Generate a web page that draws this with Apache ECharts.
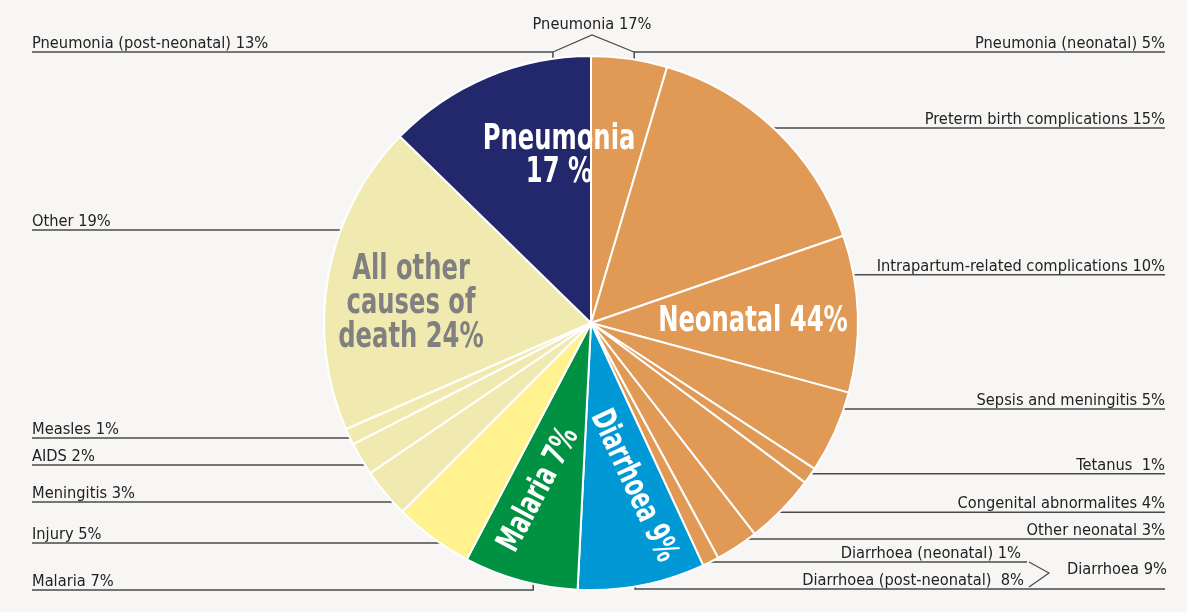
<!DOCTYPE html>
<html><head><meta charset="utf-8">
<script src="https://cdn.jsdelivr.net/npm/echarts@6/dist/echarts.min.js"></script>
<style>html,body{margin:0;padding:0;background:#f7f6f4;}#c{width:1187px;height:612px;}</style>
</head><body><div id="c"></div>
<script>
// ---- data ----
const causes = ['Pneumonia (neonatal)', 'Preterm birth complications', 'Intrapartum-related complications',
  'Sepsis and meningitis', 'Tetanus', 'Congenital abnormalites', 'Other neonatal', 'Diarrhoea (neonatal)',
  'Diarrhoea (post-neonatal)', 'Malaria', 'Injury', 'Meningitis', 'AIDS', 'Measles', 'Other',
  'Pneumonia (post-neonatal)'];
const shares = [4.6, 15.1, 9.5, 5.0, 1.0, 4.3, 2.6, 1.0, 7.7, 6.9, 4.8, 3.0, 2.0, 1.0, 18.8, 12.7];
const shownPercents = ['5%', '15%', '10%', '5%', ' 1%', '4%', '3%', '1%', ' 8%', '7%', '5%', '3%', '2%', '1%', '19%', '13%'];
const groupOf = ['neonatal', 'neonatal', 'neonatal', 'neonatal', 'neonatal', 'neonatal', 'neonatal', 'neonatal',
  'diarrhoea', 'malaria', 'injury', 'other', 'other', 'other', 'other', 'pneumonia'];
const groupTitles = { pneumonia: 'Pneumonia\n17 %', neonatal: 'Neonatal 44%', other: 'All other\ncauses of\ndeath 24%',
  malaria: 'Malaria 7%', diarrhoea: 'Diarrhoea 9%' };
const bracketTitles = { pneumonia: 'Pneumonia 17%', diarrhoea: 'Diarrhoea 9%' };

// ---- styles / layout ----
const colors = { neonatal: '#e09a55', pneumonia: '#23276b', diarrhoea: '#0099d6', malaria: '#009142',
  injury: '#fff28f', other: '#f1eab0' };
const CX = 591, CY = 323, R = 267;
const LEFT_X = 32, RIGHT_X = 1165;
const FONT = '"DejaVu Sans Condensed", "Liberation Sans Narrow", "Roboto", sans-serif';
const LABEL_SIZE = 16.3;
const LINE_COLOR = '#4a4a4a';
const SQUEEZE = 0.77;
// where each leader line meets the pie (degrees clockwise from 12 o'clock) and optional line height
const anchorDeg = [9.3, 43.1, 79.6, 108.8, 124.4, 135.1, 144.0, 153.5, 170.5, 192.5, 214.5, 227.9, 237.9, 244.5, 290.4, 351.8];
const lineYOverride = { 0: 52, 8: 589, 9: 590, 15: 52 };
const lineEndOverride = { 7: 1027 };
const textXOverride = { 7: 1021, 8: 1024 };

const chart = echarts.init(document.getElementById('c'));
const data = causes.map((c, i) => ({
  name: c, value: shares[i],
  itemStyle: { color: colors[groupOf[i]] }
}));

function boldText(x, y, text, fill, rot, lh, size, sq) {
  return { type: 'text', z: 50, x: x, y: y, scaleX: sq || SQUEEZE, rotation: (rot || 0) * Math.PI / 180,
    style: { text: text, font: 'bold ' + (size || 35) + 'px ' + FONT, lineHeight: lh || 35, fill: fill,
      textAlign: 'center', textVerticalAlign: 'middle' } };
}

chart.setOption({
  backgroundColor: '#f7f6f4',
  animation: false,
  series: [{
    type: 'pie',
    center: [CX, CY],
    radius: R,
    startAngle: 90,
    clockwise: true,
    avoidLabelOverlap: false,
    itemStyle: { borderColor: '#ffffff', borderWidth: 2 },
    label: {
      show: true, position: 'outside',
      formatter: p => p.name + ' ' + shownPercents[p.dataIndex],
      fontFamily: FONT, fontSize: LABEL_SIZE, color: '#222222', lineHeight: 18
    },
    labelLine: { show: true, length: 5, length2: 5, lineStyle: { color: LINE_COLOR, width: 1.5 } },
    labelLayout: function (params) {
      const i = params.dataIndex;
      const t = anchorDeg[i] * Math.PI / 180;
      const px = CX + R * Math.sin(t), py = CY - R * Math.cos(t);
      const ly = lineYOverride[i] != null ? lineYOverride[i] : py;
      const right = Math.sin(t) > 0;
      const lineEnd = lineEndOverride[i] != null ? lineEndOverride[i] : (right ? RIGHT_X : LEFT_X);
      const tx = textXOverride[i] != null ? textXOverride[i] : (right ? RIGHT_X : LEFT_X);
      return {
        x: tx, y: ly + 1,
        align: right ? 'right' : 'left', verticalAlign: 'bottom',
        labelLinePoints: [[px, py], [px, ly], [lineEnd, ly]]
      };
    },
    emphasis: { disabled: true },
    data: data
  }],
  graphic: [
    { type: 'polyline', z: 50, shape: { points: [[CX - 38, 52], [CX + 1, 35], [CX + 43, 52]] }, style: { stroke: LINE_COLOR, lineWidth: 1.2, fill: null } },
    { type: 'text', z: 50, x: CX + 1, y: 33, style: { text: bracketTitles.pneumonia, font: LABEL_SIZE + 'px ' + FONT, fill: '#222222', textAlign: 'center', textVerticalAlign: 'bottom' } },
    { type: 'polyline', z: 50, shape: { points: [[1029, 562], [1049, 573], [1029, 587]] }, style: { stroke: LINE_COLOR, lineWidth: 1.2, fill: null } },
    { type: 'text', z: 50, x: 1067, y: 570, style: { text: bracketTitles.diarrhoea, font: LABEL_SIZE + 'px ' + FONT, fill: '#222222', textAlign: 'left', textVerticalAlign: 'middle' } },
    boldText(559, 156, groupTitles.pneumonia, '#ffffff', 0, 33),
    boldText(753, 322, groupTitles.neonatal, '#ffffff', 0),
    boldText(411, 304, groupTitles.other, '#808080', 0, 34),
    boldText(539, 490, groupTitles.malaria, '#ffffff', 62, 35, 33, 0.73),
    boldText(633, 486, groupTitles.diarrhoea, '#ffffff', -65, 35, 33, 0.72)
  ]
});
</script></body></html>
